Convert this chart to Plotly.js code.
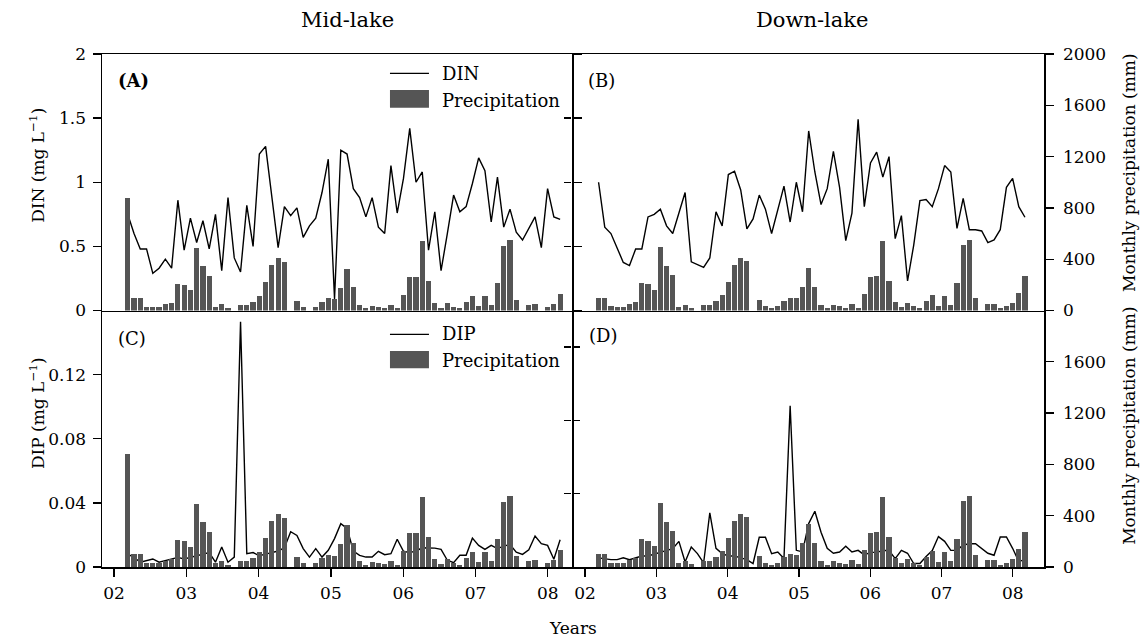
<!DOCTYPE html>
<html>
<head>
<meta charset="utf-8">
<script src="https://cdn.plot.ly/plotly-3.0.1.min.js"></script>
<style>html,body{margin:0;padding:0;background:#fff;}#chart{width:1144px;height:639px;}</style>
</head>
<body>
<div id="chart"></div>
<script>
// ---- Data ----
// Sampling period: 70 samples, first ~Mar 2002, last ~early 2008
const firstSample = 2002.19;
const lastSample = 2008.17;
const sampleCount = 70;

const yearTicks = [2002, 2003, 2004, 2005, 2006, 2007, 2008];
const yearLabels = ["02", "03", "04", "05", "06", "07", "08"];

// Mid-lake DIN (mg/L)
const dinMid = [0.75,0.60,0.48,0.48,0.29,0.33,0.40,0.33,0.86,0.47,
  0.72,0.53,0.70,0.48,0.75,0.31,0.88,0.41,0.30,0.82,
  0.50,1.22,1.28,0.88,0.49,0.81,0.74,0.80,0.57,0.66,
  0.72,0.92,1.18,0.09,1.25,1.22,0.95,0.88,0.73,0.88,
  0.65,0.60,1.13,0.76,1.03,1.42,1.00,1.08,0.47,0.77,
  0.31,0.60,0.90,0.77,0.81,0.99,1.19,1.09,0.69,1.04,
  0.65,0.79,0.61,0.55,0.64,0.73,0.49,0.95,0.73,0.71];

// Down-lake DIN (mg/L)
const dinDown = [1.00,0.65,0.60,0.49,0.375,0.35,0.48,0.48,0.73,0.75,
  0.79,0.66,0.60,0.76,0.92,0.38,0.36,0.336,0.41,0.77,
  0.66,1.06,1.086,0.94,0.636,0.714,0.90,0.79,0.60,0.79,
  0.97,0.69,1.00,0.77,1.40,1.08,0.826,0.95,1.24,0.96,
  0.545,0.76,1.49,0.81,1.15,1.235,1.04,1.20,0.56,0.74,
  0.23,0.51,0.857,0.865,0.81,0.95,1.13,1.08,0.64,0.875,
  0.63,0.63,0.62,0.53,0.55,0.63,0.96,1.03,0.81,0.727];

// Mid-lake DIP (mg/L)
const dipMid = [0.008,0.006,0.003,0.004,0.005,0.003,0.004,0.005,0.006,0.005,
  0.006,0.007,0.008,0.009,0.003,0.0125,0.003,0.0062,0.153,0.0083,
  0.009,0.007,0.008,0.009,0.010,0.012,0.022,0.0197,0.0115,0.0062,
  0.0115,0.0062,0.0104,0.0177,0.027,0.024,0.010,0.0073,0.0062,0.0062,
  0.0098,0.0077,0.0083,0.0173,0.0098,0.009,0.010,0.012,0.012,0.0118,
  0.011,0.0042,0.0027,0.0073,0.0073,0.018,0.0135,0.011,0.0135,0.0115,
  0.013,0.014,0.0093,0.0079,0.0108,0.0193,0.0146,0.0135,0.0048,0.017];

// Down-lake DIP (mg/L)
const dipDown = [0.005,0.0045,0.004,0.004,0.005,0.004,0.005,0.006,0.006,0.007,
  0.008,0.009,0.010,0.014,0.0027,0.0109,0.0073,0.0022,0.0296,0.0102,
  0.0073,0.006,0.006,0.005,0.004,0.0019,0.0162,0.0162,0.0073,0.0082,
  0.0046,0.088,0.0091,0.0082,0.0237,0.0304,0.019,0.0102,0.0075,0.0082,
  0.0113,0.0082,0.0091,0.0066,0.008,0.008,0.009,0.009,0.0046,0.0091,
  0.0075,0.0019,0.0019,0.0057,0.009,0.0166,0.014,0.0091,0.0091,0.012,
  0.0127,0.0127,0.0102,0.0075,0.0064,0.0164,0.0164,0.0102,0.003,0.004];

// Monthly precipitation (mm)
const precipMid = [880,99,99,29,29,29,47,60,208,200,
  156,488,348,270,29,47,18,0,44,44,
  68,114,226,356,410,382,0,76,29,0,
  29,68,94,88,177,325,185,44,16,37,
  29,21,44,16,122,262,262,543,231,60,
  21,60,29,16,68,114,37,114,44,216,
  504,551,83,0,44,52,0,29,52,130];

const precipDown = [99,99,34,29,29,52,68,216,205,161,
  496,348,278,29,44,21,0,44,44,78,
  122,226,356,410,387,0,83,34,16,34,
  78,99,94,185,333,185,44,16,44,34,
  21,52,21,130,262,270,543,231,68,29,
  60,34,16,78,122,37,114,44,216,512,
  551,94,0,52,52,16,34,60,138,270];

// sampling times (evenly spaced across the sampling period)
const sampleTimes = [];
for (let i = 0; i < sampleCount; i++) {
  sampleTimes.push(firstSample + i * (lastSample - firstSample) / (sampleCount - 1));
}

// ---- Styling ----
const FONT = "DejaVu Serif, Liberation Serif, serif";
const barColor = "#555555";
const lineStyle = {color: "#000", width: 1.4};
const barWidth = 0.072;

const traces = [
  // Panel A
  {type: "scatter", mode: "lines", x: sampleTimes, y: dinMid, xaxis: "x", yaxis: "y", line: lineStyle, name: "DIN"},
  {type: "bar", x: sampleTimes, y: precipMid, xaxis: "x", yaxis: "y5", marker: {color: barColor}, width: barWidth, name: "Precipitation"},
  // Panel B
  {type: "scatter", mode: "lines", x: sampleTimes, y: dinDown, xaxis: "x2", yaxis: "y2", line: lineStyle, name: "DIN"},
  {type: "bar", x: sampleTimes, y: precipDown, xaxis: "x2", yaxis: "y6", marker: {color: barColor}, width: barWidth, name: "Precipitation"},
  // Panel C
  {type: "scatter", mode: "lines", x: sampleTimes, y: dipMid, xaxis: "x3", yaxis: "y3", line: lineStyle, name: "DIP"},
  {type: "bar", x: sampleTimes, y: precipMid, xaxis: "x3", yaxis: "y7", marker: {color: barColor}, width: barWidth, name: "Precipitation"},
  // Panel D
  {type: "scatter", mode: "lines", x: sampleTimes, y: dipDown, xaxis: "x4", yaxis: "y4", line: lineStyle, name: "DIP"},
  {type: "bar", x: sampleTimes, y: precipDown, xaxis: "x4", yaxis: "y8", marker: {color: barColor}, width: barWidth, name: "Precipitation"},
  // inner ticks of panel D's left axis
  {type: "scatter", mode: "lines", x: [], y: [], xaxis: "x4", yaxis: "y9", showlegend: false, hoverinfo: "skip"}
];

const tickFont = {family: FONT, size: 17, color: "#000"};
const axBase = {showgrid: false, zeroline: false, showline: true, linecolor: "#000", linewidth: 1.5,
  tickcolor: "#000", tickwidth: 1.3, ticklen: 8, tickfont: tickFont, fixedrange: true};

const leftX = [2001.834, 2008.335];
const rightX = [2001.818, 2008.437];
const splitX = 0.499;
const splitY = 0.5;

const layout = {
  width: 1144, height: 639,
  margin: {l: 102, r: 100, t: 54, b: 72},
  paper_bgcolor: "#fff", plot_bgcolor: "rgba(0,0,0,0)",
  showlegend: false,
  bargap: 0,
  font: {family: FONT, size: 17, color: "#000"},
  xaxis:  Object.assign({}, axBase, {domain: [0, splitX], range: leftX, anchor: "y", mirror: true, ticks: "", showticklabels: false}),
  xaxis2: Object.assign({}, axBase, {domain: [splitX, 1], range: rightX, anchor: "y2", mirror: true, ticks: "", showticklabels: false}),
  xaxis3: Object.assign({}, axBase, {domain: [0, splitX], range: leftX, anchor: "y3", mirror: false, ticks: "outside",
    tickvals: yearTicks, ticktext: yearLabels, ticklabelstandoff: 2}),
  xaxis4: Object.assign({}, axBase, {domain: [splitX, 1], range: rightX, anchor: "y4", mirror: false, ticks: "outside",
    tickvals: yearTicks, ticktext: yearLabels, ticklabelstandoff: 2}),
  yaxis:  Object.assign({}, axBase, {domain: [splitY, 1], range: [0, 2], anchor: "x", ticks: "outside", mirror: "ticks",
    tickvals: [0, 0.5, 1, 1.5, 2], ticktext: ["0", "0.5", "1", "1.5", "2"], ticklabelstandoff: 3}),
  yaxis2: Object.assign({}, axBase, {domain: [splitY, 1], range: [0, 2], anchor: "x2", ticks: "outside", ticklen: 7,
    showline: false, tickvals: [0.5, 1, 1.5], showticklabels: false}),
  yaxis3: Object.assign({}, axBase, {domain: [0, splitY], range: [0, 0.16], anchor: "x3", ticks: "outside", mirror: true,
    tickvals: [0, 0.04, 0.08, 0.12], ticktext: ["0", "0.04", "0.08", "0.12"], ticklabelstandoff: 3}),
  yaxis4: Object.assign({}, axBase, {domain: [0, splitY], range: [0, 0.14], anchor: "x4", ticks: "outside", ticklen: 7,
    showline: false, tickvals: [0.04, 0.08, 0.12], showticklabels: false}),
  yaxis5: Object.assign({}, axBase, {range: [0, 2000], overlaying: "y", anchor: "x", visible: false}),
  yaxis6: Object.assign({}, axBase, {range: [0, 2000], overlaying: "y2", anchor: "x2", side: "right", ticks: "outside",
    tickvals: [0, 400, 800, 1200, 1600, 2000], ticklabelstandoff: 6}),
  yaxis7: Object.assign({}, axBase, {range: [0, 2000], overlaying: "y3", anchor: "x3", visible: false}),
  yaxis8: Object.assign({}, axBase, {range: [0, 2000], overlaying: "y4", anchor: "x4", side: "right", ticks: "outside",
    tickvals: [0, 400, 800, 1200, 1600], ticklabelstandoff: 6}),
  yaxis9: Object.assign({}, axBase, {range: [0, 0.14], overlaying: "y4", anchor: "x4", side: "left", ticks: "inside", ticklen: 8,
    showline: false, tickvals: [0.04, 0.08, 0.12], showticklabels: false}),
  shapes: [
    // legend A
    {type: "line", xref: "paper", yref: "paper", x0: 0.3057, x1: 0.3471, y0: 0.9624, y1: 0.9624, line: {color: "#000", width: 1.3}},
    {type: "rect", xref: "paper", yref: "paper", x0: 0.3057, x1: 0.3471, y0: 0.8953, y1: 0.9298, line: {width: 0}, fillcolor: barColor},
    // legend C
    {type: "line", xref: "paper", yref: "paper", x0: 0.3057, x1: 0.3471, y0: 0.4536, y1: 0.4536, line: {color: "#000", width: 1.3}},
    {type: "rect", xref: "paper", yref: "paper", x0: 0.3057, x1: 0.3471, y0: 0.3873, y1: 0.4211, line: {width: 0}, fillcolor: barColor}
  ],
  annotations: [
    {text: "Mid-lake", xref: "paper", yref: "paper", x: 0.2601, y: 1.0663, showarrow: false, xanchor: "center", yanchor: "middle", font: {family: FONT, size: 21}},
    {text: "Down-lake", xref: "paper", yref: "paper", x: 0.7537, y: 1.0663, showarrow: false, xanchor: "center", yanchor: "middle", font: {family: FONT, size: 21}},
    {text: "Years", xref: "paper", yref: "paper", x: 0.5, y: -0.119, showarrow: false, xanchor: "center", yanchor: "middle", font: {family: FONT, size: 17}},
    {text: "DIN (mg L<sup>−1</sup>)", xref: "paper", yref: "paper", x: -0.069, y: 0.782, textangle: -90, showarrow: false, xanchor: "center", yanchor: "middle", font: {family: FONT, size: 17}},
    {text: "DIP (mg L<sup>−1</sup>)", xref: "paper", yref: "paper", x: -0.069, y: 0.30, textangle: -90, showarrow: false, xanchor: "center", yanchor: "middle", font: {family: FONT, size: 17}},
    {text: "Monthly precipitation (mm)", xref: "paper", yref: "paper", x: 1.0902, y: 0.770, textangle: -90, showarrow: false, xanchor: "center", yanchor: "middle", font: {family: FONT, size: 17}},
    {text: "Monthly precipitation (mm)", xref: "paper", yref: "paper", x: 1.0902, y: 0.277, textangle: -90, showarrow: false, xanchor: "center", yanchor: "middle", font: {family: FONT, size: 17}},
    {text: "<b>(A)</b>", xref: "paper", yref: "paper", x: 0.0149, y: 0.948, showarrow: false, xanchor: "left", yanchor: "middle", font: {family: FONT, size: 18}},
    {text: "(B)", xref: "paper", yref: "paper", x: 0.5135, y: 0.949, showarrow: false, xanchor: "left", yanchor: "middle", font: {family: FONT, size: 18}},
    {text: "(C)", xref: "paper", yref: "paper", x: 0.0149, y: 0.446, showarrow: false, xanchor: "left", yanchor: "middle", font: {family: FONT, size: 18}},
    {text: "(D)", xref: "paper", yref: "paper", x: 0.5145, y: 0.451, showarrow: false, xanchor: "left", yanchor: "middle", font: {family: FONT, size: 18}},
    {text: "DIN", xref: "paper", yref: "paper", x: 0.3588, y: 0.9624, showarrow: false, xanchor: "left", yanchor: "middle", font: {family: FONT, size: 18}},
    {text: "Precipitation", xref: "paper", yref: "paper", x: 0.3588, y: 0.9103, showarrow: false, xanchor: "left", yanchor: "middle", font: {family: FONT, size: 18}},
    {text: "DIP", xref: "paper", yref: "paper", x: 0.3588, y: 0.4542, showarrow: false, xanchor: "left", yanchor: "middle", font: {family: FONT, size: 18}},
    {text: "Precipitation", xref: "paper", yref: "paper", x: 0.3588, y: 0.4035, showarrow: false, xanchor: "left", yanchor: "middle", font: {family: FONT, size: 18}}
  ]
};

Plotly.newPlot("chart", traces, layout, {staticPlot: true, displayModeBar: false});
</script>
</body>
</html>
